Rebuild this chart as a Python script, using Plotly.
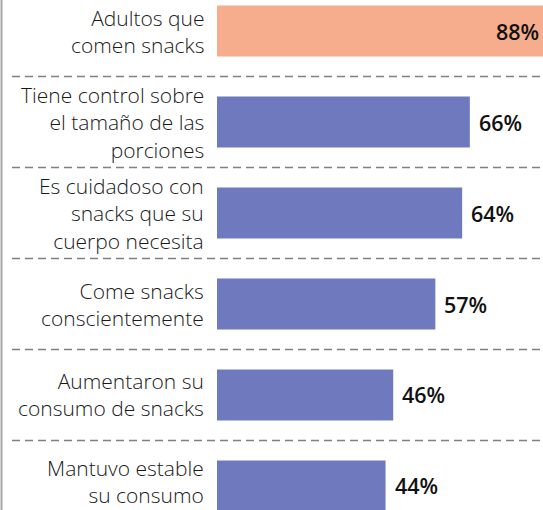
import plotly.graph_objects as go

# Survey results: share of adults (%) for each snacking behaviour
categories = [
    "Adultos que<br>comen snacks",
    "Tiene control sobre<br>el tamaño de las<br>porciones",
    "Es cuidadoso con<br>snacks que su<br>cuerpo necesita",
    "Come snacks<br>conscientemente",
    "Aumentaron su<br>consumo de snacks",
    "Mantuvo estable<br>su consumo",
]
values = [88, 66, 64, 57, 46, 44]
value_labels = ["88%", "66%", "64%", "57%", "46%", "44%"]

ORANGE = "#F6AD8D"
BLUE = "#6F7ABE"
colors = [ORANGE] + [BLUE] * (len(values) - 1)

W, H = 543, 510
ML = 217
plot_w = W - ML

positions = list(range(len(categories)))

fig = go.Figure(
    go.Bar(
        x=values,
        y=positions,
        orientation="h",
        width=0.56,
        marker=dict(color=colors, line=dict(width=0)),
        hoverinfo="skip",
    )
)

x_max = 85.1

annotations = []
for pos, cat in zip(positions, categories):
    annotations.append(dict(
        x=(206 - ML) / plot_w, xref="paper", y=pos, yref="y",
        text=cat, showarrow=False, xanchor="right", yanchor="middle",
        align="right", yshift=4 if pos == positions[-1] else 0,
        font=dict(family="Open Sans", size=21, color="#1a1a1a", weight=300),
    ))

for pos, v, lab in zip(positions, values, value_labels):
    if v > x_max:
        ann = dict(x=1, xref="paper", xanchor="right", xshift=-2)
    else:
        ann = dict(x=v, xref="x", xanchor="left", xshift=7)
    ann.update(
        y=pos, yref="y", text=lab, showarrow=False, yanchor="middle",
        font=dict(family="Open Sans", size=21.5, color="#111111", weight=600),
    )
    annotations.append(ann)

shapes = []
# dashed separators between rows
for i in range(len(positions) - 1):
    shapes.append(dict(
        type="line", xref="paper", yref="y",
        x0=(12 - ML) / plot_w, x1=1, y0=i + 0.5, y1=i + 0.5,
        line=dict(color="#808080", width=1.4, dash="8px,5px"),
    ))
# left frame line
shapes.append(dict(
    type="line", xref="paper", yref="paper",
    x0=(1.5 - ML) / plot_w, x1=(1.5 - ML) / plot_w, y0=0, y1=1,
    line=dict(color="#a8a8a8", width=2),
))

fig.update_layout(
    width=W, height=H,
    margin=dict(l=ML, r=0, t=0, b=0),
    paper_bgcolor="white", plot_bgcolor="white",
    showlegend=False,
    xaxis=dict(range=[0, x_max], visible=False, fixedrange=True),
    yaxis=dict(range=[5.264, -0.341], visible=False, fixedrange=True),
    annotations=annotations,
    shapes=shapes,
)

fig.write_html("out.html", config={"displayModeBar": False})
